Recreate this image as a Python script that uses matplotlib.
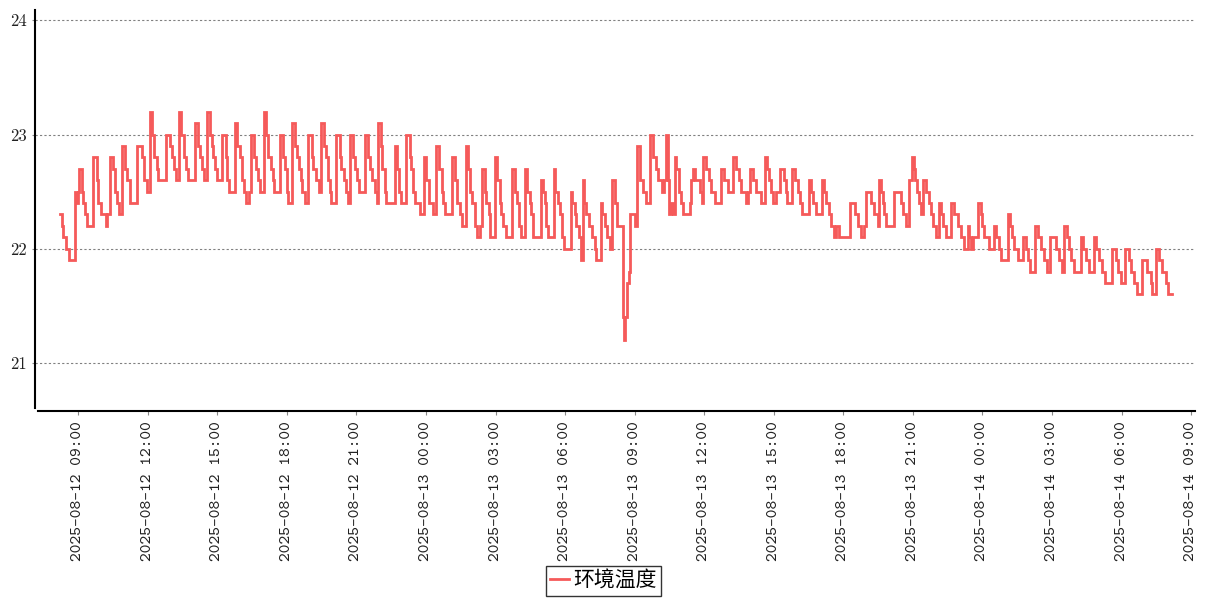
import matplotlib
matplotlib.use("Agg")
import matplotlib.pyplot as plt

series_name = "环境温度"

tick_labels = [
    "2025-08-12 09:00", "2025-08-12 12:00", "2025-08-12 15:00", "2025-08-12 18:00",
    "2025-08-12 21:00", "2025-08-13 00:00", "2025-08-13 03:00", "2025-08-13 06:00",
    "2025-08-13 09:00", "2025-08-13 12:00", "2025-08-13 15:00", "2025-08-13 18:00",
    "2025-08-13 21:00", "2025-08-14 00:00", "2025-08-14 03:00", "2025-08-14 06:00",
    "2025-08-14 09:00",
]
# minutes after 2025-08-12 09:00 of each tick label
tick_minutes = [0, 180, 360, 540, 720, 900, 1080, 1260, 1440, 1620, 1800, 1980,
                2160, 2340, 2520, 2700, 2880]
y_ticks = [21, 22, 23, 24]
y_tick_labels = ["21", "22", "23", "24"]

# minutes after 2025-08-12 09:00 at which the reading changes
t_min = [
    -47, -43, -39, -32, -23, -9, -4, -2, 3, 9, 13, 17, 23, 39, 48, 52, 58, 72, 75,
    82, 89, 95, 101, 106, 113, 121, 127, 134, 153, 164, 171, 177, 185, 191, 196,
    203, 207, 227, 237, 243, 248, 253, 260, 267, 273, 279, 284, 302, 309, 315, 320,
    325, 334, 341, 345, 349, 354, 358, 373, 382, 386, 390, 405, 412, 418, 424, 429,
    435, 441, 447, 454, 461, 465, 470, 480, 487, 492, 498, 503, 507, 522,
    530, 535, 539, 543, 552, 560, 566, 572, 576, 580, 586, 595, 604, 608, 614, 623,
    628, 635, 641, 647, 651, 655, 668, 677, 681, 687, 692, 697, 703, 710, 716, 722,
    726, 743, 750, 754, 761, 767, 772, 776, 783, 787, 793, 797, 819, 825, 830, 834,
    849, 858, 862, 866, 871, 884, 894, 901, 907, 918, 927, 934, 940, 944, 948, 968,
    974, 979, 987, 994, 1003, 1009, 1015, 1020, 1026, 1032, 1039, 1045, 1052, 1056,
    1062, 1066, 1078, 1084, 1091, 1095, 1099, 1106, 1122, 1129, 1135, 1141, 1147,
    1155, 1162, 1168, 1172, 1178, 1198, 1203, 1207, 1211, 1216, 1230, 1235, 1241,
    1247, 1253, 1256, 1274, 1278, 1285, 1289, 1295, 1302, 1306, 1310, 1315, 1322,
    1330, 1336, 1341, 1352, 1356, 1362, 1368, 1375, 1382, 1388, 1394, 1410, 1412,
    1416, 1421, 1425, 1428, 1440, 1446, 1453, 1461, 1468, 1480, 1487, 1494, 1500,
    1511, 1517, 1520, 1526, 1530, 1535, 1539, 1543, 1547, 1554, 1560, 1566, 1582,
    1586, 1591, 1595, 1608, 1615, 1618, 1625, 1632, 1638, 1647, 1664, 1672, 1681,
    1694, 1703, 1709, 1716, 1727, 1733, 1739, 1747, 1754, 1767, 1776, 1782, 1787,
    1793, 1797, 1806, 1815, 1826, 1831, 1835, 1847, 1856, 1862, 1868, 1873, 1892,
    1897, 1901, 1908, 1925, 1931, 1935, 1942, 1948, 1957, 1961, 1968, 1996, 2009,
    2017, 2026, 2034, 2039, 2052, 2060, 2069, 2073, 2078, 2082, 2086, 2090, 2112,
    2129, 2135, 2142, 2149, 2157, 2162, 2165, 2170, 2175, 2181, 2185, 2194, 2201,
    2207, 2213, 2220, 2227, 2233, 2237, 2246, 2259, 2267, 2276, 2284, 2293, 2302,
    2306, 2310, 2315, 2329, 2336, 2340, 2345, 2358, 2371, 2375, 2382, 2388, 2405,
    2412, 2416, 2422, 2431, 2446, 2453, 2459, 2464, 2476, 2483, 2491, 2500, 2507,
    2515, 2530, 2539, 2547, 2552, 2558, 2563, 2569, 2578, 2595, 2601, 2608, 2616,
    2629, 2635, 2642, 2649, 2658, 2675, 2685, 2692, 2698, 2709, 2718, 2724, 2733,
    2741, 2753, 2767, 2776, 2780, 2789, 2797, 2804, 2815, 2819, 2830,
]
temp = [
    22.3, 22.2, 22.1, 22.0, 21.9, 22.5, 22.4, 22.5, 22.7, 22.5, 22.4, 22.3, 22.2, 22.8, 22.6, 22.4, 22.3, 22.2, 22.3,
    22.8, 22.7, 22.5, 22.4, 22.3, 22.9, 22.7, 22.6, 22.4, 22.9, 22.8, 22.6, 22.5, 23.2, 23.0, 22.8,
    22.7, 22.6, 23.0, 22.9, 22.8, 22.7, 22.6, 23.2, 23.0, 22.8, 22.7, 22.6, 23.1, 22.9, 22.8, 22.7,
    22.6, 23.2, 23.0, 22.9, 22.8, 22.7, 22.6, 23.0, 22.8, 22.6, 22.5, 23.1, 22.9, 22.8, 22.6, 22.5,
    22.4, 22.5, 23.0, 22.8, 22.7, 22.6, 22.5, 23.2, 23.0, 22.8, 22.7, 22.6, 22.5, 23.0,
    22.8, 22.7, 22.5, 22.4, 23.1, 22.9, 22.8, 22.7, 22.6, 22.5, 22.4, 23.0, 22.8, 22.7, 22.6, 22.5,
    23.1, 22.9, 22.8, 22.6, 22.5, 22.4, 23.0, 22.8, 22.7, 22.6, 22.5, 22.4, 23.0, 22.8, 22.7, 22.6,
    22.5, 23.0, 22.8, 22.7, 22.6, 22.5, 22.4, 23.1, 22.9, 22.7, 22.5, 22.4, 22.9, 22.7, 22.5, 22.4,
    23.0, 22.8, 22.7, 22.5, 22.4, 22.3, 22.8, 22.6, 22.4, 22.3, 22.9, 22.7, 22.5, 22.4, 22.3, 22.8,
    22.6, 22.4, 22.3, 22.2, 22.9, 22.7, 22.5, 22.4, 22.2, 22.1, 22.2, 22.7, 22.5, 22.4,
    22.3, 22.1, 22.8, 22.6, 22.4, 22.3, 22.2, 22.1, 22.7, 22.5, 22.4, 22.2, 22.1,
    22.7, 22.5, 22.4, 22.3, 22.1, 22.6, 22.5, 22.4, 22.2, 22.1, 22.7, 22.5, 22.4,
    22.3, 22.1, 22.0, 22.5, 22.4, 22.3, 22.2, 22.1, 21.9, 22.6, 22.4, 22.3, 22.2,
    22.1, 22.0, 21.9, 22.4, 22.3, 22.2, 22.1, 22.0, 22.6, 22.4, 22.2, 21.4, 21.2,
    21.4, 21.7, 21.8, 22.3, 22.2, 22.9, 22.6, 22.5, 22.4, 23.0, 22.8, 22.7, 22.6,
    22.5, 22.6, 23.0, 22.6, 22.3, 22.4, 22.3, 22.8, 22.7, 22.5, 22.4, 22.3, 22.4,
    22.6, 22.7, 22.6, 22.5, 22.4, 22.8, 22.7, 22.6, 22.5, 22.4, 22.7, 22.6, 22.5,
    22.8, 22.7, 22.6, 22.5, 22.4, 22.5, 22.7, 22.6, 22.5, 22.4, 22.8, 22.7, 22.6,
    22.5, 22.4, 22.5, 22.7, 22.6, 22.5, 22.4, 22.7, 22.6, 22.5, 22.4, 22.3, 22.6,
    22.5, 22.4, 22.3, 22.6, 22.5, 22.4, 22.3, 22.2, 22.1, 22.2, 22.1, 22.4, 22.3,
    22.2, 22.1, 22.2, 22.5, 22.4, 22.3, 22.2, 22.6, 22.5, 22.4, 22.3, 22.2, 22.5,
    22.4, 22.3, 22.2, 22.6, 22.8, 22.7, 22.6, 22.5, 22.4, 22.3, 22.6, 22.5, 22.4,
    22.3, 22.2, 22.1, 22.4, 22.3, 22.2, 22.1, 22.4, 22.3, 22.2, 22.1, 22.0, 22.2,
    22.1, 22.0, 22.1, 22.4, 22.3, 22.2, 22.1, 22.0, 22.2, 22.1, 22.0, 21.9, 22.3,
    22.2, 22.1, 22.0, 21.9, 22.1, 22.0, 21.9, 21.8, 22.2, 22.1, 22.0, 21.9, 21.8,
    22.1, 22.0, 21.9, 21.8, 22.2, 22.1, 22.0, 21.9, 21.8, 22.1, 22.0, 21.9, 21.8,
    22.1, 22.0, 21.9, 21.8, 21.7, 22.0, 21.9, 21.8, 21.7, 22.0, 21.9, 21.8, 21.7,
    21.6, 21.9, 21.8, 21.7, 21.6, 22.0, 21.9, 21.8, 21.7, 21.6, 21.6,
]

line_color = "#f55a5a"

fig = plt.figure(figsize=(12.07, 6.0), dpi=100)
ax = fig.add_axes([35 / 1207, 1 - 411 / 600, 1160 / 1207, 401 / 600])

ax.plot(t_min, temp, drawstyle="steps-post", color=line_color, lw=2.0,
        label=series_name, solid_joinstyle="miter")

ax.set_xlim(-112, 2890)
ax.set_ylim(20.58, 24.09)
ax.set_yticks(y_ticks)
ax.set_yticklabels(y_tick_labels, fontfamily="cmr10", fontsize=12, color="#222222")
ax.yaxis.grid(True, linestyle=(0, (2, 2)), color="#808080", lw=0.8)
ax.set_axisbelow(True)

ax.set_xticks(tick_minutes)
ax.set_xticklabels(tick_labels, rotation=90, fontfamily="cmtt10",
                   fontsize=12, color="#222222")

ax.tick_params(axis="x", length=3, width=0.8, color="#888888", pad=4)
ax.tick_params(axis="y", length=2, width=0.8, color="#888888", pad=4)

for side in ("top", "right"):
    ax.spines[side].set_visible(False)
for side in ("left", "bottom"):
    ax.spines[side].set_linewidth(1.5)
    ax.spines[side].set_color("black")
ax.spines["left"].set_bounds(20.61, 24.09)
ax.spines["bottom"].set_bounds(-104, 2890)

leg = fig.legend(loc="lower center", bbox_to_anchor=(0.5, 0.0),
                 prop={"family": ["Noto Sans CJK SC", "DejaVu Sans"], "size": 15},
                 frameon=True, fancybox=False, edgecolor="black",
                 handlelength=0.9, handletextpad=0.2, borderpad=0.2,
                 borderaxespad=0.2)
leg.get_frame().set_linewidth(1.0)

fig.savefig("out.png", dpi=100)
